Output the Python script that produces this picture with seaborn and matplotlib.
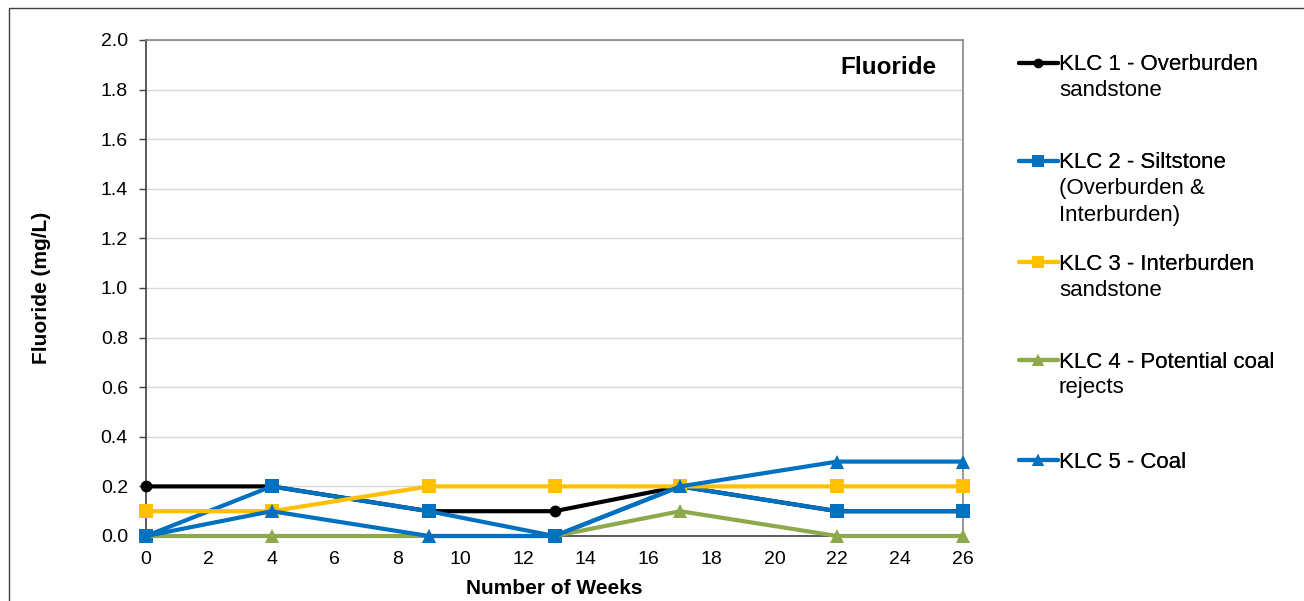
import numpy as np
import pandas as pd
import matplotlib
matplotlib.use('Agg')
import matplotlib.pyplot as plt
import seaborn as sns
from matplotlib.patches import Rectangle

# Data
weeks = [0, 4, 9, 13, 17, 22, 26]
klc1 = [0.2, 0.2, 0.1, 0.1, 0.2, 0.1, 0.1]
klc2 = [0.0, 0.2, 0.1, 0.0, 0.2, 0.1, 0.1]
klc3 = [0.1, 0.1, 0.2, 0.2, 0.2, 0.2, 0.2]
klc4 = [0.0, 0.0, 0.0, 0.0, 0.1, 0.0, 0.0]
klc5 = [0.0, 0.1, 0.0, 0.0, 0.2, 0.3, 0.3]

series_names = ['KLC 1 - Overburden\nsandstone',
                'KLC 2 - Siltstone\n(Overburden &\nInterburden)',
                'KLC 3 - Interburden\nsandstone',
                'KLC 4 - Potential coal\nrejects',
                'KLC 5 - Coal']
colors = ['#000000', '#0070C0', '#FFC000', '#8EA94B', '#0070C0']
markers = ['o', 's', 's', '^', '^']
msizes = [8.5, 10, 10, 10.5, 10.5]

rows = []
for name, vals in zip(series_names, [klc1, klc2, klc3, klc4, klc5]):
    for w, v in zip(weeks, vals):
        rows.append({'week': w, 'value': v, 'series': name})
df = pd.DataFrame(rows)

sns.set_style('white')
plt.rcParams['font.family'] = ['Liberation Sans', 'DejaVu Sans']
plt.rcParams['text.color'] = 'black'
plt.rcParams['axes.labelcolor'] = 'black'

W, H = 1304, 601
fig = plt.figure(figsize=(W / 100, H / 100), dpi=100)
ax = fig.add_axes([146 / W, 1 - 536 / H, (963 - 146) / W, (536 - 40) / H])

for i, name in enumerate(series_names):
    sns.lineplot(data=df[df['series'] == name], x='week', y='value', color=colors[i],
                 marker=markers[i], markersize=msizes[i], markeredgewidth=0,
                 linewidth=3.0, ax=ax, label=name, zorder=3 + i, clip_on=False)
ax.get_legend().remove()

ax.set_xlim(0, 26)
ax.set_ylim(0, 2.0)
ax.set_xticks(np.arange(0, 27, 2))
ax.set_yticks(np.arange(0, 2.01, 0.2))
ax.set_yticklabels([f'{v:.1f}' for v in np.arange(0, 2.01, 0.2)])
ax.tick_params(axis='x', length=0, pad=11, labelsize=14, colors='#000000')
ax.tick_params(axis='y', length=5, width=1, direction='out', pad=8, labelsize=14,
               colors='#404040', labelcolor='#000000', left=True)
ax.yaxis.grid(True, color='#D9D9D9', linewidth=1)
ax.set_axisbelow(True)
for s in ['top', 'right']:
    ax.spines[s].set_color('#868686')
    ax.spines[s].set_linewidth(1.2)
for s in ['left', 'bottom']:
    ax.spines[s].set_color('#404040')
    ax.spines[s].set_linewidth(1.2)

ax.set_xlabel('Number of Weeks', fontsize=15, fontweight='bold', labelpad=8)
ax.set_ylabel('Fluoride (mg/L)', fontsize=15, fontweight='bold', labelpad=36)
ax.text(0.968, 0.945, 'Fluoride', transform=ax.transAxes, ha='right', va='center',
        fontsize=17.5, fontweight='bold')

# outer chart frame
fig.patches.append(Rectangle((9 / W, -0.1), 1.5, 1 - 8 / H + 0.1, transform=fig.transFigure,
                             fill=False, edgecolor='#404040', linewidth=1))

# legend, one entry at a time so the handle lines up with the first text line
lines = ax.get_lines()
legend_y = [65, 163, 264, 362, 462]
fig.canvas.draw()
renderer = fig.canvas.get_renderer()
for i, name in enumerate(series_names):
    parts = name.split('\n')
    leg = fig.legend(handles=[lines[i]], labels=[parts[0]], loc='center left',
                     bbox_to_anchor=(1019 / W, 1 - legend_y[i] / H), frameon=False,
                     borderpad=0, borderaxespad=0, handlelength=1.75, handletextpad=0.05,
                     fontsize=16, markerscale=0.8)
    fig.add_artist(leg)
    if len(parts) > 1:
        fig.canvas.draw()
        x0 = leg.get_texts()[0].get_window_extent(renderer).x0
        for j, extra in enumerate(parts[1:]):
            fig.text(x0 / W, 1 - (legend_y[i] + 26 * (j + 1)) / H, extra,
                     ha='left', va='center', fontsize=16)

fig.savefig('out.png', dpi=100)
